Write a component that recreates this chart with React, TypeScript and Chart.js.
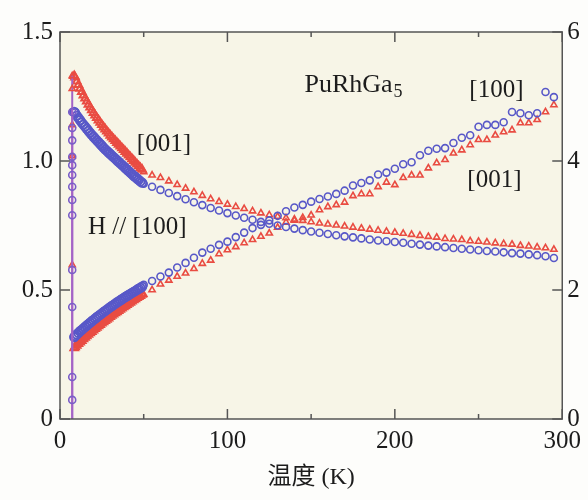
import { useEffect, useRef } from 'react';
import { Chart, registerables } from 'chart.js';

Chart.register(...registerables);

// Temperatures (K)
const tempsDense = [8.5, 9, 10, 11, 12, 13, 14, 15, 16, 17, 18, 19, 20, 21, 22, 23, 24, 25, 26, 27, 28, 29, 30, 31, 32, 33, 34, 35, 36, 37, 38, 39, 40, 41, 42, 43, 44, 45, 46, 47, 48, 49];
const tempsSparse = [50, 55, 60, 65, 70, 75, 80, 85, 90, 95, 100, 105, 110, 115, 120, 125, 130, 135, 140, 145, 150, 155, 160, 165, 170, 175, 180, 185, 190, 195, 200, 205, 210, 215, 220, 225, 230, 235, 240, 245, 250, 255, 260, 265, 270, 275, 280, 285, 290, 295];
const tempTransition = 7.3;

// chi, H // [001] (left axis)
const chi001Dense = [1.330, 1.324, 1.309, 1.295, 1.281, 1.268, 1.255, 1.243, 1.231, 1.219, 1.208, 1.197, 1.187, 1.177, 1.167, 1.158, 1.149, 1.140, 1.131, 1.123, 1.115, 1.107, 1.099, 1.092, 1.085, 1.078, 1.071, 1.064, 1.057, 1.050, 1.043, 1.036, 1.029, 1.022, 1.015, 1.008, 1.001, 0.994, 0.987, 0.980, 0.973, 0.967];
const chi001Sparse = [0.958, 0.945, 0.935, 0.922, 0.908, 0.894, 0.880, 0.866, 0.853, 0.842, 0.832, 0.823, 0.815, 0.806, 0.798, 0.791, 0.785, 0.779, 0.774, 0.769, 0.764, 0.759, 0.755, 0.751, 0.747, 0.743, 0.739, 0.735, 0.731, 0.727, 0.723, 0.719, 0.715, 0.711, 0.707, 0.704, 0.699, 0.697, 0.695, 0.690, 0.688, 0.685, 0.682, 0.679, 0.677, 0.672, 0.670, 0.666, 0.663, 0.657];

// chi, H // [100] (left axis)
const chi100Dense = [1.190, 1.186, 1.176, 1.167, 1.158, 1.149, 1.141, 1.133, 1.125, 1.117, 1.109, 1.101, 1.094, 1.087, 1.080, 1.073, 1.066, 1.059, 1.052, 1.045, 1.039, 1.033, 1.027, 1.021, 1.015, 1.009, 1.003, 0.997, 0.991, 0.985, 0.979, 0.973, 0.967, 0.961, 0.955, 0.949, 0.943, 0.938, 0.932, 0.927, 0.921, 0.916];
const chi100Sparse = [0.912, 0.900, 0.888, 0.876, 0.864, 0.852, 0.840, 0.829, 0.818, 0.808, 0.798, 0.789, 0.780, 0.772, 0.764, 0.757, 0.750, 0.744, 0.738, 0.732, 0.727, 0.722, 0.717, 0.712, 0.708, 0.704, 0.700, 0.696, 0.692, 0.689, 0.686, 0.683, 0.679, 0.676, 0.672, 0.669, 0.666, 0.663, 0.660, 0.657, 0.654, 0.651, 0.649, 0.646, 0.643, 0.641, 0.638, 0.635, 0.631, 0.624];

// 1/chi, H // [100] (right axis)
const inv100Dense = [1.27, 1.285, 1.31, 1.335, 1.36, 1.382, 1.405, 1.428, 1.45, 1.472, 1.494, 1.515, 1.536, 1.557, 1.578, 1.598, 1.618, 1.638, 1.658, 1.677, 1.696, 1.715, 1.734, 1.752, 1.77, 1.788, 1.806, 1.823, 1.84, 1.857, 1.874, 1.891, 1.907, 1.923, 1.939, 1.955, 1.971, 1.987, 2.003, 2.019, 2.034, 2.05];
const inv100Sparse = [2.08, 2.14, 2.21, 2.27, 2.35, 2.42, 2.50, 2.58, 2.64, 2.70, 2.75, 2.82, 2.89, 2.96, 3.01, 3.08, 3.15, 3.22, 3.28, 3.32, 3.37, 3.41, 3.45, 3.49, 3.54, 3.62, 3.66, 3.70, 3.79, 3.82, 3.88, 3.95, 3.98, 4.09, 4.16, 4.19, 4.20, 4.28, 4.36, 4.40, 4.53, 4.56, 4.56, 4.60, 4.76, 4.74, 4.71, 4.74, 5.07, 4.99];

// 1/chi, H // [001] (right axis)
const inv001Dense = [1.10, 1.115, 1.14, 1.165, 1.19, 1.214, 1.238, 1.262, 1.285, 1.308, 1.331, 1.353, 1.375, 1.397, 1.419, 1.44, 1.461, 1.482, 1.503, 1.523, 1.543, 1.563, 1.583, 1.603, 1.622, 1.641, 1.66, 1.679, 1.698, 1.717, 1.735, 1.753, 1.771, 1.789, 1.807, 1.825, 1.843, 1.861, 1.878, 1.895, 1.912, 1.929];
const inv001Sparse = [1.93, 2.00, 2.09, 2.15, 2.21, 2.26, 2.33, 2.41, 2.46, 2.56, 2.62, 2.67, 2.73, 2.78, 2.83, 2.88, 2.97, 3.05, 3.08, 3.12, 3.16, 3.24, 3.29, 3.32, 3.36, 3.46, 3.49, 3.49, 3.60, 3.67, 3.63, 3.74, 3.78, 3.78, 3.89, 3.97, 4.02, 4.12, 4.17, 4.25, 4.33, 4.33, 4.40, 4.45, 4.48, 4.59, 4.59, 4.64, 4.76, 4.87];

// Superconducting drop at Tc (left axis)
const transition100 = [-0.3, 0.074, 0.163, 0.434, 0.578, 0.79, 0.849, 0.90, 0.946, 0.984, 1.016, 1.08, 1.128, 1.19];
const transition001 = [-0.3, 0.597, 1.02, 1.14, 1.28, 1.33];

// Tick values
const xTicksMajor = [0, 100, 200, 300];
const xTicksAll = [0, 50, 100, 150, 200, 250, 300];
const yLeftTicks = [0, 0.5, 1.0, 1.5];
const yRightTicks = [0, 2, 4, 6];

const BLUE = '#5858c8';
const RED = '#e94c42';
const PURPLE = '#a463c6';
const SERIF = '"Liberation Serif", "Times New Roman", "Noto Sans CJK SC", serif';

const pts = (xs: number[], ys: number[]) => xs.map((x, i) => ({ x, y: ys[i] }));

export default function App() {
  const ref = useRef<HTMLCanvasElement>(null);

  useEffect(() => {
    if (!ref.current) return;

    const bgPlugin = {
      id: 'bg',
      beforeDraw(chart: any) {
        const { ctx, chartArea: a } = chart;
        ctx.save();
        ctx.fillStyle = '#f7f5e7';
        ctx.fillRect(a.left, a.top, a.right - a.left, a.bottom - a.top);
        ctx.restore();
      },
    };

    const framePlugin = {
      id: 'frame',
      afterDatasetsDraw(chart: any) {
        const { ctx, chartArea: a, scales } = chart;
        ctx.save();
        ctx.strokeStyle = '#555';
        ctx.lineWidth = 1.5;
        ctx.strokeRect(a.left, a.top, a.right - a.left, a.bottom - a.top);
        ctx.beginPath();
        xTicksAll.forEach((t) => {
          const px = scales.x.getPixelForValue(t);
          const len = xTicksMajor.includes(t) ? 10 : 5;
          ctx.moveTo(px, a.bottom);
          ctx.lineTo(px, a.bottom - len);
          ctx.moveTo(px, a.top);
          ctx.lineTo(px, a.top + len);
        });
        yLeftTicks.forEach((v) => {
          const py = scales.y.getPixelForValue(v);
          ctx.moveTo(a.left, py);
          ctx.lineTo(a.left + 10, py);
        });
        yRightTicks.forEach((v) => {
          const py = scales.y1.getPixelForValue(v);
          ctx.moveTo(a.right, py);
          ctx.lineTo(a.right - 10, py);
        });
        ctx.stroke();
        ctx.restore();
      },
    };

    const textPlugin = {
      id: 'labels',
      afterDatasetsDraw(chart: any) {
        const { ctx, scales } = chart;
        const X = (t: number) => scales.x.getPixelForValue(t);
        const Y = (v: number) => scales.y.getPixelForValue(v);
        ctx.save();
        ctx.fillStyle = '#1c1c1c';
        ctx.textBaseline = 'middle';
        ctx.textAlign = 'left';
        ctx.font = `26px ${SERIF}`;
        const formula = 'PuRhGa';
        ctx.fillText(formula, X(146), Y(1.295));
        const w = ctx.measureText(formula).width;
        ctx.font = `18px ${SERIF}`;
        ctx.fillText('5', X(146) + w + 1, Y(1.295) + 7);
        ctx.font = `25px ${SERIF}`;
        ctx.fillText('[100]', X(244.5), Y(1.275));
        ctx.fillText('[001]', X(243.3), Y(0.926));
        ctx.fillText('[001]', X(45.9), Y(1.066));
        ctx.fillText('H // [100]', X(16.7), Y(0.744));
        ctx.restore();
      },
    };

    const markerSet = (label: string, data: any[], color: string, style: string, axis: string, r: number, bw: number) => ({
      label,
      data,
      yAxisID: axis,
      showLine: false,
      pointStyle: style,
      pointRadius: r,
      pointBorderWidth: bw,
      borderColor: color,
      backgroundColor: 'rgba(0,0,0,0)',
      pointBackgroundColor: 'rgba(0,0,0,0)',
    });

    const chart = new Chart(ref.current, {
      type: 'scatter',
      data: {
        datasets: [
          {
            label: 'Tc [100]',
            data: transition100.map((v) => ({ x: tempTransition, y: v })),
            yAxisID: 'y',
            showLine: true,
            borderColor: PURPLE,
            borderWidth: 2,
            pointStyle: 'circle',
            pointRadius: 3.5,
            pointBorderWidth: 1.6,
            pointBorderColor: '#7a5ec8',
            pointBackgroundColor: 'rgba(0,0,0,0)',
            backgroundColor: 'rgba(0,0,0,0)',
          } as any,
          {
            label: 'Tc [001]',
            data: transition001.map((v) => ({ x: tempTransition, y: v })),
            yAxisID: 'y',
            showLine: true,
            borderColor: PURPLE,
            borderWidth: 2,
            pointStyle: 'triangle',
            pointRadius: 3.5,
            pointBorderWidth: 1.6,
            pointBorderColor: RED,
            pointBackgroundColor: 'rgba(0,0,0,0)',
            backgroundColor: 'rgba(0,0,0,0)',
          } as any,
          markerSet('chi100 dense', pts(tempsDense, chi100Dense), BLUE, 'circle', 'y', 4.2, 2),
          markerSet('inv100 dense', pts(tempsDense, inv100Dense), BLUE, 'circle', 'y1', 4.2, 2),
          markerSet('chi001 dense', pts(tempsDense, chi001Dense), RED, 'triangle', 'y', 4.4, 2),
          markerSet('inv001 dense', pts(tempsDense, inv001Dense), RED, 'triangle', 'y1', 4.4, 2),
          markerSet('chi100', pts(tempsSparse, chi100Sparse), BLUE, 'circle', 'y', 3.5, 1.6),
          markerSet('inv100', pts(tempsSparse, inv100Sparse), BLUE, 'circle', 'y1', 3.5, 1.6),
          markerSet('chi001', pts(tempsSparse, chi001Sparse), RED, 'triangle', 'y', 3.6, 1.6),
          markerSet('inv001', pts(tempsSparse, inv001Sparse), RED, 'triangle', 'y1', 3.6, 1.6),
        ],
      },
      options: {
        responsive: false,
        animation: false,
        devicePixelRatio: 1,
        layout: { padding: { top: 32, left: 0, right: 0, bottom: 0 } },
        plugins: {
          legend: { display: false },
          tooltip: { enabled: false },
        },
        scales: {
          x: {
            type: 'linear',
            min: 0,
            max: 300,
            grid: { display: false, drawTicks: false },
            border: { display: false },
            ticks: {
              stepSize: 100,
              padding: 7,
              color: '#1c1c1c',
              font: { family: SERIF, size: 25 },
              maxRotation: 0,
              autoSkip: false,
            },
            title: {
              display: true,
              text: '温度 (K)',
              color: '#1c1c1c',
              font: { family: SERIF, size: 24 },
              padding: { top: 0, bottom: 8 },
            },
            afterFit: (s: any) => {
              s.height = 81;
            },
          },
          y: {
            type: 'linear',
            position: 'left',
            min: 0,
            max: 1.5,
            grid: { display: false, drawTicks: false },
            border: { display: false },
            ticks: {
              stepSize: 0.5,
              padding: 7,
              color: '#1c1c1c',
              font: { family: SERIF, size: 25 },
              callback: (v: any) => (Number(v) === 0 ? '0' : Number(v).toFixed(1)),
            },
            afterFit: (s: any) => {
              s.width = 60;
            },
          },
          y1: {
            type: 'linear',
            position: 'right',
            min: 0,
            max: 6,
            grid: { display: false, drawTicks: false },
            border: { display: false },
            ticks: {
              stepSize: 2,
              padding: 5,
              color: '#1c1c1c',
              font: { family: SERIF, size: 25 },
            },
            afterFit: (s: any) => {
              s.width = 25;
            },
          },
        },
      } as any,
      plugins: [bgPlugin, framePlugin, textPlugin],
    });

    return () => chart.destroy();
  }, []);

  return (
    <div style={{ position: 'absolute', left: 0, top: 0, width: 588, height: 500, background: '#fdfdfb' }}>
      <canvas ref={ref} width={588} height={500} style={{ display: 'block', width: 588, height: 500 }} />
    </div>
  );
}
